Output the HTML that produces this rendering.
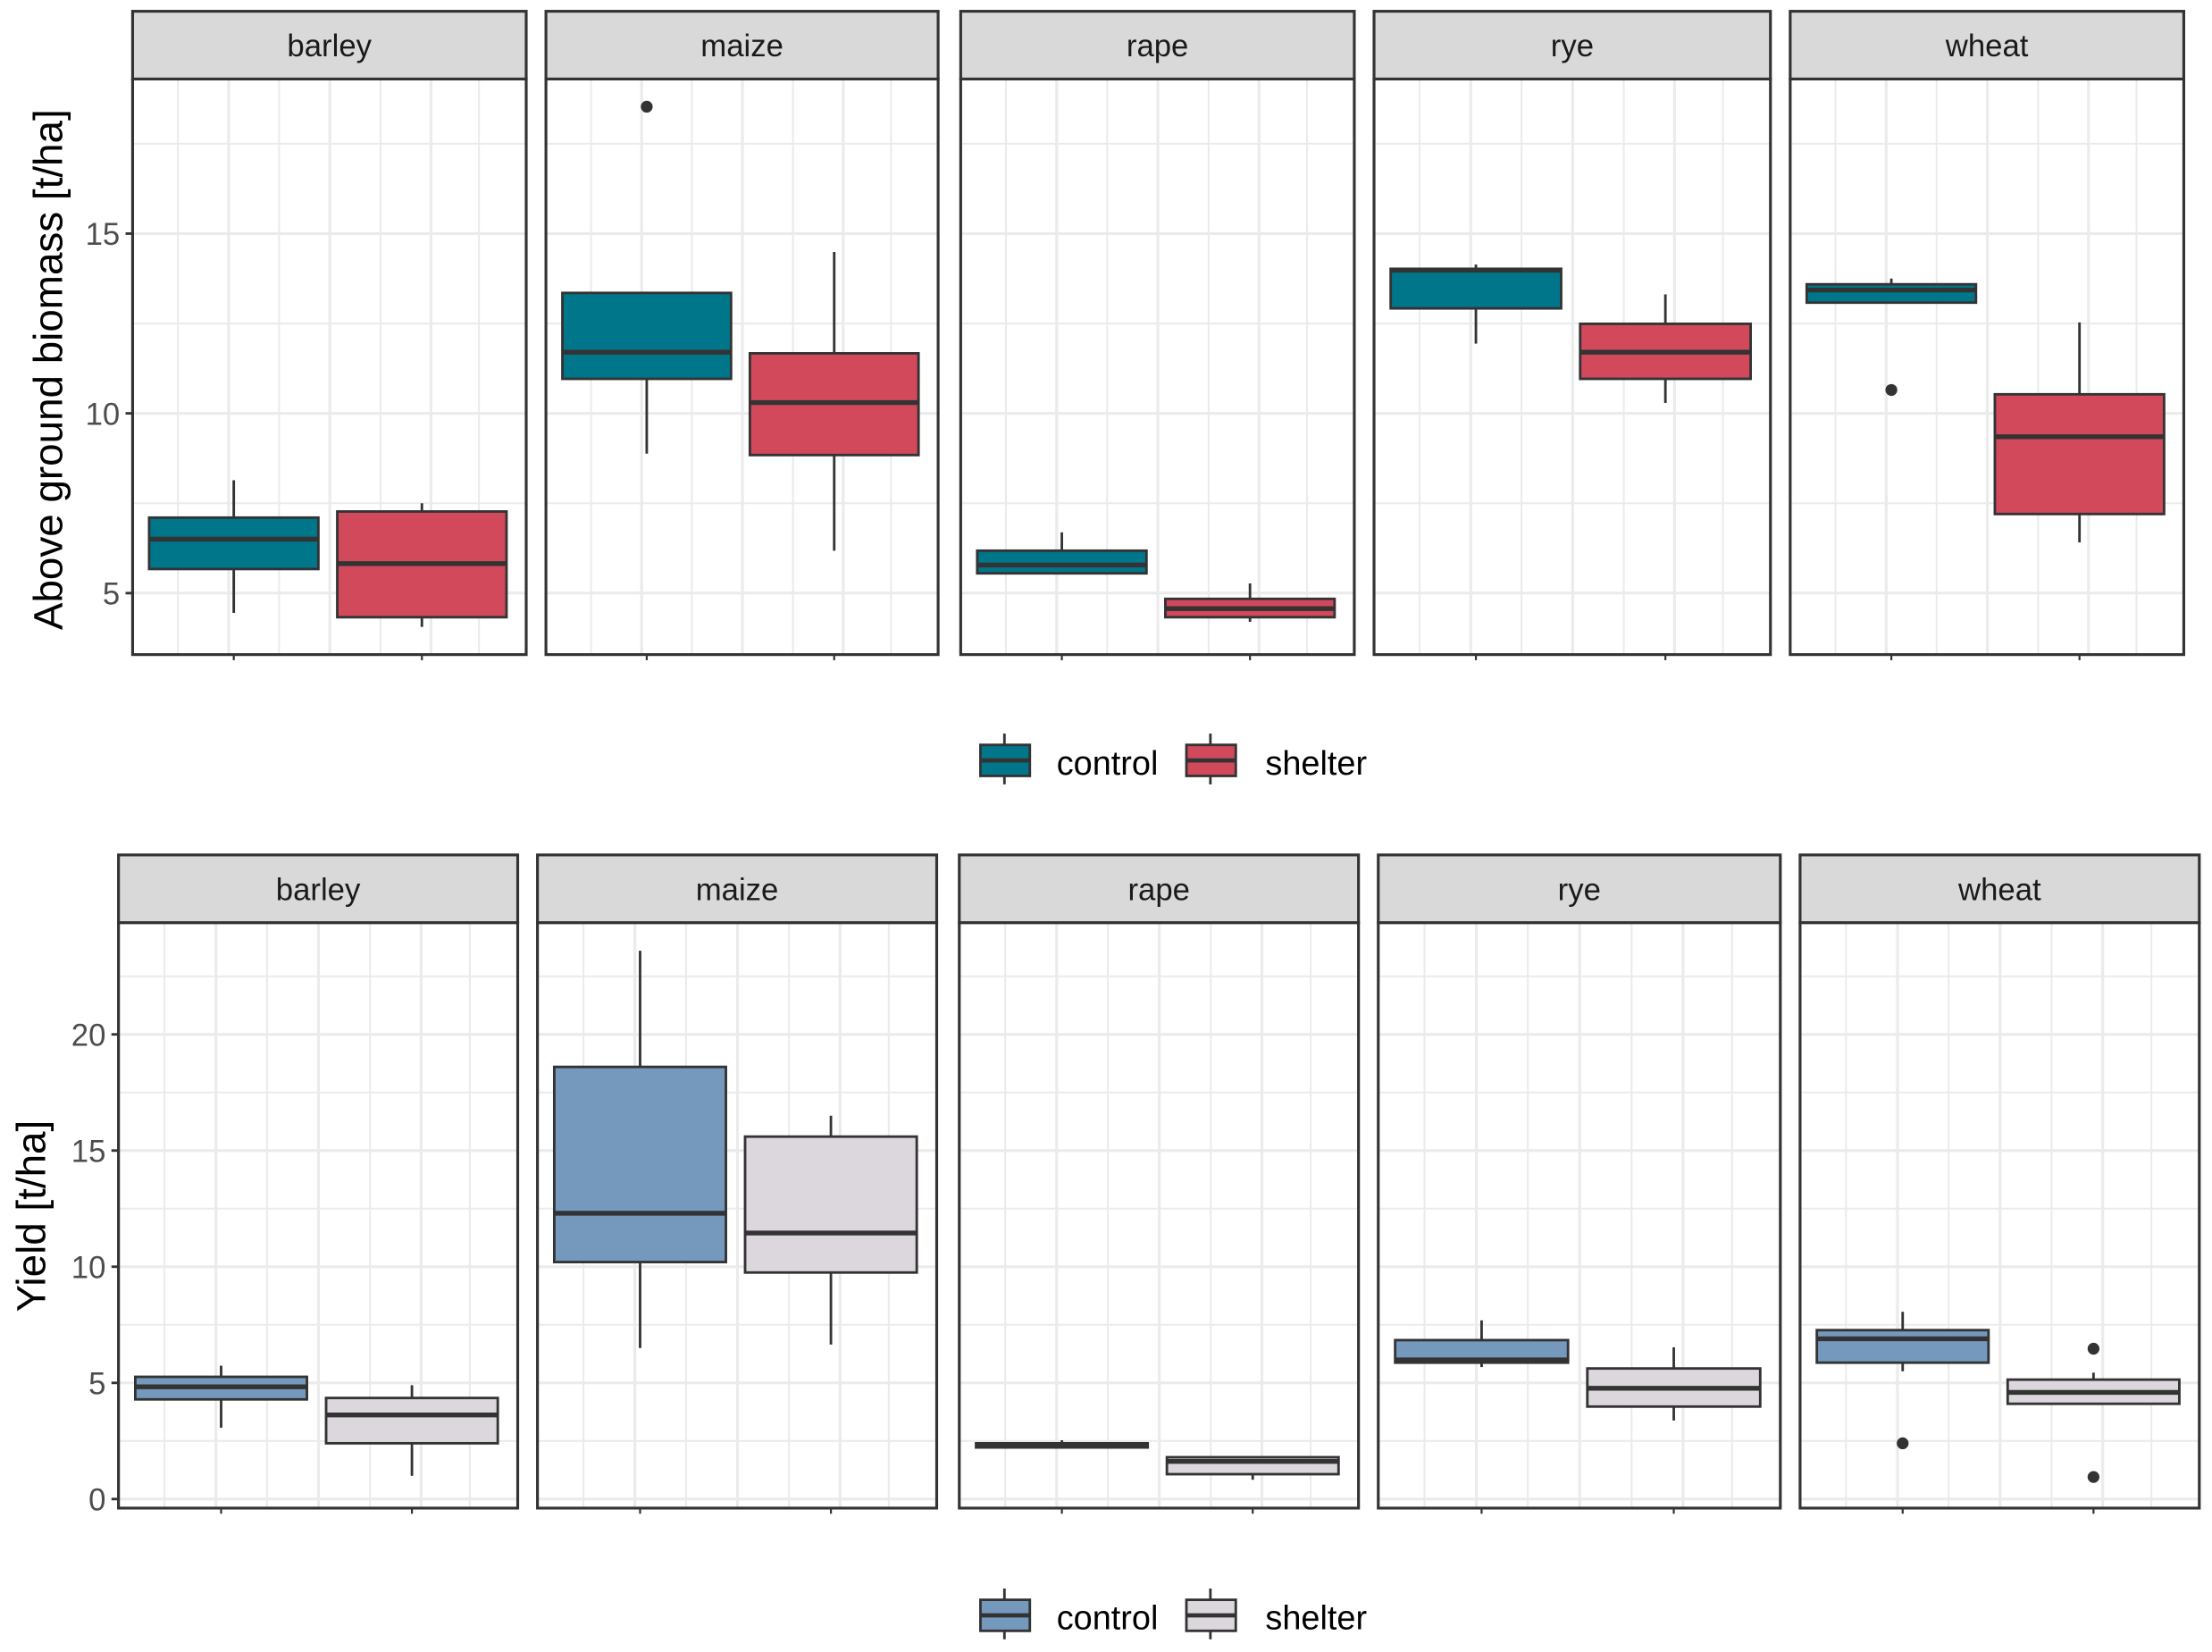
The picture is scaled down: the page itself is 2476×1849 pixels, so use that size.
<!DOCTYPE html>
<html><head><meta charset="utf-8">
<style>
html,body{margin:0;padding:0;background:#fff;}
svg{display:block;font-family:"Liberation Sans",Arial,sans-serif;}
</style></head>
<body>
<svg id="chart" width="2476" height="1849" viewBox="0 0 1568 1171" preserveAspectRatio="none" xmlns="http://www.w3.org/2000/svg"></svg>
<script>
const crops = ["barley","maize","rape","rye","wheat"];
const treatments = ["control","shelter"];
// [low whisker, Q1, median, Q3, high whisker]
const biomassControl = [[4.45,5.67,6.5,7.1,8.14],[8.88,10.96,11.7,13.35,13.35],[5.55,5.55,5.78,6.18,6.69],[11.94,12.92,13.98,14.02,14.14],[13.08,13.08,13.43,13.59,13.75]];
const biomassShelter = [[4.06,4.33,5.82,7.27,7.5],[6.18,8.84,10.3,11.67,14.49],[4.2,4.33,4.57,4.84,5.27],[10.29,10.96,11.7,12.49,13.31],[6.41,7.2,9.35,10.53,12.53]];
const biomassOutliersControl = [[],[18.53],[],[],[10.65]];
const biomassOutliersShelter = [[],[],[],[],[]];
const biomassTicks = [5,10,15];
const yieldControl = [[3.07,4.29,4.83,5.26,5.74],[6.5,10.2,12.3,18.6,23.6],[2.22,2.22,2.28,2.4,2.53],[5.68,5.87,5.99,6.84,7.69],[5.5,5.87,6.9,7.27,8.06]];
const yieldShelter = [[1.0,2.4,3.62,4.35,4.9],[6.65,9.75,11.45,15.6,16.5],[0.83,1.07,1.62,1.8,1.8],[3.38,3.98,4.77,5.62,6.53],[4.1,4.1,4.59,5.14,5.44]];
const yieldOutliersControl = [[],[],[],[],[2.4]];
const yieldOutliersShelter = [[],[],[],[],[6.47,0.95]];
const yieldTicks = [0,5,10,15,20];

const svg = document.getElementById('chart');
const NS = "http://www.w3.org/2000/svg";
function mk(tag, attrs, parent){
  const e = document.createElementNS(NS, tag);
  for (const k in attrs) e.setAttribute(k, attrs[k]);
  (parent||svg).appendChild(e);
  return e;
}

function drawPanelSet(cfg){
  const g = mk('g', {});
  
  
  const yScale = v => cfg.pBot - (v - cfg.yMin) / (cfg.yMax - cfg.yMin) * (cfg.pBot - cfg.pTop);
  crops.forEach((crop, i) => {
    const L = cfg.lefts[i], R = cfg.rights[i], W = R - L;
    const pg = mk('g', {}, g);
    
    
    mk('rect', {x:L, y:cfg.pTop, width:W, height:cfg.pBot-cfg.pTop, fill:'#fff'}, pg);
    for (let v = Math.ceil(cfg.yMin/2.5)*2.5; v <= cfg.yMax; v += 2.5) {
      const y = yScale(v);
      const major = Math.abs(v/5 - Math.round(v/5)) < 1e-6;
      mk('line', {x1:L, x2:R, y1:y, y2:y, stroke:'#ebebeb', 'stroke-width': major?2:1.3}, pg);
    }
    const fr = [0.115,0.244,0.372,0.501,0.630,0.758,0.880];
    fr.forEach((f,k) => {
      const x = L + f*W;
      mk('line', {x1:x, x2:x, y1:cfg.pTop, y2:cfg.pBot, stroke:'#ebebeb', 'stroke-width': (k%2==1)?2:1.3}, pg);
    });
    const datasets = [[cfg.ctrl[i], cfg.ctrlOut[i], cfg.colors[0], 0.257, 'control'], [cfg.shel[i], cfg.shelOut[i], cfg.colors[1], 0.735, 'shelter']];
    datasets.forEach(([d, outs, col, cf, tn]) => {
      const cx = L + cf*W, hw = 0.215*W;
      const bg = mk('g', {}, pg);
      
      
      mk('line', {x1:cx, x2:cx, y1:yScale(d[4]), y2:yScale(d[3]), stroke:'#333', 'stroke-width':1.8}, bg);
      mk('line', {x1:cx, x2:cx, y1:yScale(d[1]), y2:yScale(d[0]), stroke:'#333', 'stroke-width':1.8}, bg);
      mk('rect', {x:cx-hw, y:yScale(d[3]), width:2*hw, height:Math.max(yScale(d[1])-yScale(d[3]),0.5), fill:col, stroke:'#333', 'stroke-width':1.8}, bg);
      mk('line', {x1:cx-hw, x2:cx+hw, y1:yScale(d[2]), y2:yScale(d[2]), stroke:'#333', 'stroke-width':3.4}, bg);
      outs.forEach(o => {
        const c = mk('circle', {cx:cx, cy:yScale(o), r:4.2, fill:'#333'}, bg);
        
        
      });
      mk('line', {x1:cx, x2:cx, y1:cfg.pBot, y2:cfg.pBot+4, stroke:'#333', 'stroke-width':1.4}, pg);
    });
    mk('rect', {x:L, y:cfg.pTop, width:W, height:cfg.pBot-cfg.pTop, fill:'none', stroke:'#333', 'stroke-width':2}, pg);
    const st = mk('rect', {x:L, y:cfg.sTop, width:W, height:cfg.pTop-cfg.sTop, fill:'#d9d9d9', stroke:'#333', 'stroke-width':2}, pg);
    
    
    const t = mk('text', {x:L+W/2, y:(cfg.sTop+cfg.pTop)/2+8, 'text-anchor':'middle', 'font-size':22, fill:'#1a1a1a'}, pg);
    t.textContent = crop;
    
    
  });
  cfg.ticks.forEach(v => {
    const y = yScale(v);
    mk('line', {x1:cfg.lefts[0]-5, x2:cfg.lefts[0], y1:y, y2:y, stroke:'#333', 'stroke-width':1.8}, g);
    const t = mk('text', {x:cfg.lefts[0]-9, y:y+8, 'text-anchor':'end', 'font-size':22, fill:'#4d4d4d'}, g);
    t.textContent = v;
    
    
  });
  const yc = cfg.titleY;
  const tt = mk('text', {x:0, y:0, transform:`translate(${cfg.titleX},${yc}) rotate(-90)`, 'text-anchor':'middle', 'font-size':29, fill:'#000'}, g);
  tt.textContent = cfg.title;
  
  
  const lg = mk('g', {}, g);
  
  
  [[695,749,'control'],[841,897,'shelter']].forEach(([kx,tx,lab],k) => {
    const eg = mk('g', {}, lg);
    
    
    mk('line', {x1:kx+17, x2:kx+17, y1:cfg.legY-20, y2:cfg.legY+16, stroke:'#333', 'stroke-width':1.8}, eg);
    mk('rect', {x:kx, y:cfg.legY-12, width:35, height:22, fill:cfg.colors[k], stroke:'#333', 'stroke-width':1.8}, eg);
    mk('line', {x1:kx, x2:kx+35, y1:cfg.legY-1, y2:cfg.legY-1, stroke:'#333', 'stroke-width':3}, eg);
    const t = mk('text', {x:tx, y:cfg.legY+9, 'font-size':24, fill:'#000'}, eg);
    t.textContent = lab;
  });
}

drawPanelSet({name:'biomass-chart', lefts:[94,387,681,974,1269], rights:[373,665,960,1255,1548],
  sTop:8, pTop:56, pBot:464, yMin:3.29, yMax:19.3, ctrl:biomassControl, shel:biomassShelter,
  ctrlOut:biomassOutliersControl, shelOut:biomassOutliersShelter, ticks:biomassTicks,
  colors:['#00768a','#d2495c'], title:'Above ground biomass [t/ha]', titleX:44, titleY:262, legY:540});
drawPanelSet({name:'yield-chart', lefts:[84,381,680,977,1276], rights:[367,664,963,1262,1559],
  sTop:606, pTop:654, pBot:1069, yMin:-0.39, yMax:24.81, ctrl:yieldControl, shel:yieldShelter,
  ctrlOut:yieldOutliersControl, shelOut:yieldOutliersShelter, ticks:yieldTicks,
  colors:['#7599bd','#dcd7dd'], title:'Yield [t/ha]', titleX:32, titleY:862, legY:1146});
</script>
</body></html>
